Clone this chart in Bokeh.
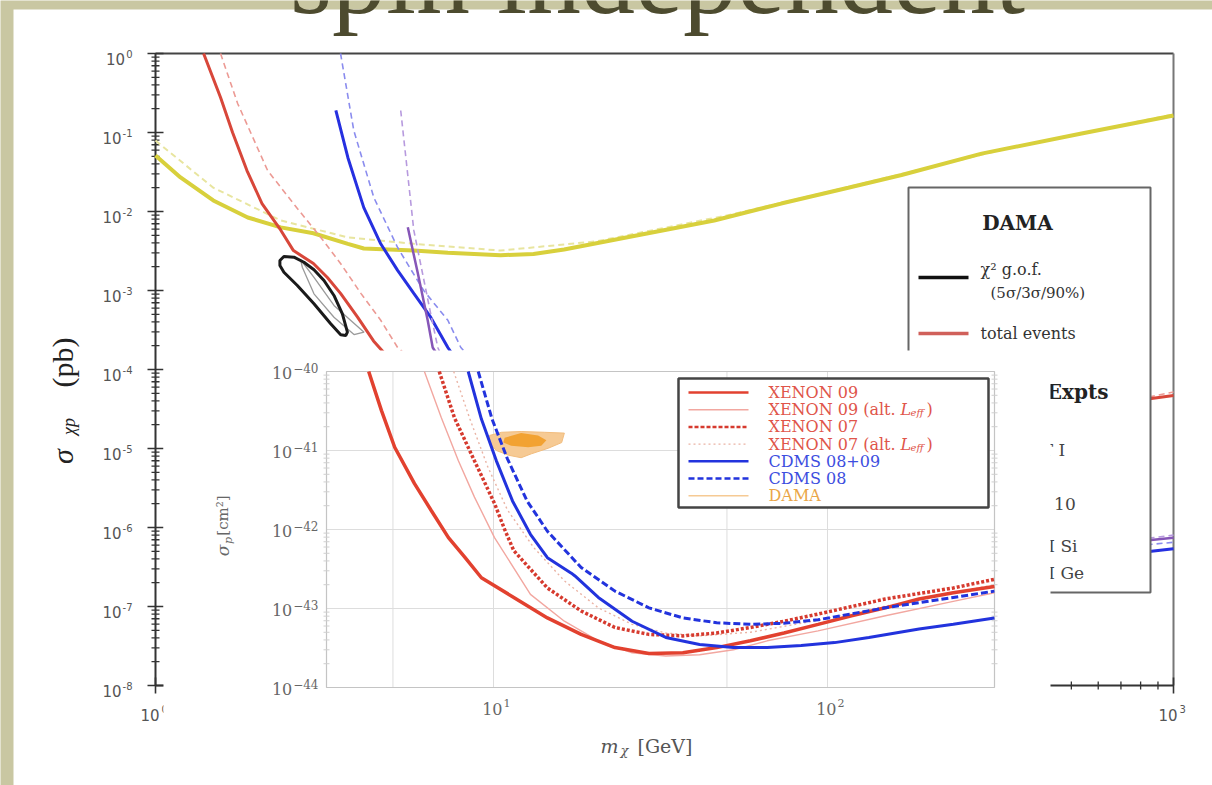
import numpy as np
from bokeh.plotting import figure
from bokeh.models import Range1d, LogScale
from bokeh.core.properties import value
from bokeh.embed import file_html
from bokeh.resources import INLINE

W, H = 1212, 785

# ---------------- main plot: sigma_chi_p [pb] vs m_chi [GeV] ----------------
main_x_ticks = [1, 10, 100, 1000]
main_x_tick_exp = ["0", "1", "2", "3"]
main_y_ticks = [1e0, 1e-1, 1e-2, 1e-3, 1e-4, 1e-5, 1e-6, 1e-7, 1e-8]
main_y_tick_exp = ["0", "-1", "-2", "-3", "-4", "-5", "-6", "-7", "-8"]

yellow_m = [1.0, 1.185, 1.48, 1.87, 2.34, 2.92, 3.69, 4.11, 5.77, 7.27, 10.4, 13.0, 16.0, 28.3, 44.3, 69.8, 110, 158, 272, 536, 1000]
yellow_s = [0.051, 0.027, 0.0138, 0.0084, 0.0063, 0.0053, 0.0039, 0.0034, 0.0032, 0.0030, 0.0028, 0.0029, 0.0033, 0.0053, 0.0077, 0.0126, 0.020, 0.029, 0.054, 0.097, 0.164]
yellow_dash_m = [1.0, 1.48, 2.34, 3.69, 5.77, 10.4, 20, 50, 100, 300, 1000]
yellow_dash_s = [0.079, 0.020, 0.0077, 0.0047, 0.0039, 0.0032, 0.0042, 0.0092, 0.0185, 0.058, 0.17]

red_m = [1.386, 1.555, 1.687, 1.86, 2.06, 2.34, 2.55, 2.92, 3.21, 3.51, 3.94, 4.39, 4.7, 6, 10, 30, 100, 300, 861, 1000]
red_s = [1.0, 0.277, 0.1, 0.033, 0.0126, 0.0058, 0.0032, 0.0022, 0.00146, 0.00092, 0.00046, 0.00023, 0.000165, 7e-5, 2e-5, 5e-6, 6e-6, 1.5e-5, 4.3e-5, 4.7e-5]
red_dash_m = [1.555, 1.746, 2.14, 2.55, 3.07, 3.51, 4.03, 4.61, 5.17, 7, 12, 30, 100, 300, 1000]
red_dash_s = [1.0, 0.233, 0.033, 0.0126, 0.0047, 0.0022, 0.00092, 0.00042, 0.00019, 6e-5, 2e-5, 8e-6, 8e-6, 1.8e-5, 5.2e-5]

blue_m = [3.40, 3.69, 4.11, 4.61, 5.17, 5.77, 6.47, 7.27, 9, 15, 30, 60, 150, 400, 861, 1000]
blue_s = [0.19, 0.048, 0.0112, 0.0039, 0.0018, 0.00092, 0.00046, 0.00019, 5e-5, 5e-6, 8e-7, 3e-7, 2.5e-7, 3.2e-7, 5e-7, 5.4e-7]
blue_dash_m = [3.51, 3.84, 4.40, 5.17, 6.17, 7.27, 7.94, 10, 20, 50, 150, 400, 1000]
blue_dash_s = [1.0, 0.106, 0.015, 0.0035, 0.001, 0.00042, 0.00019, 6e-5, 6e-6, 1e-6, 4e-7, 4.5e-7, 6.5e-7]

purple_m = [5.54, 5.93, 6.34, 6.56, 8, 15, 40, 150, 400, 1000]
purple_s = [0.0063, 0.00165, 0.00042, 0.00019, 5e-5, 5e-6, 7e-7, 4e-7, 5e-7, 7.4e-7]
purple_dash_m = [5.28, 5.77, 6.47, 6.79, 8, 15, 40, 150, 400, 1000]
purple_dash_s = [0.19, 0.0058, 0.00051, 0.00019, 4e-5, 4e-6, 6e-7, 4e-7, 5e-7, 8e-7]

dama_gof_m = [2.326, 2.390, 2.558, 2.738, 2.931, 3.137, 3.357, 3.554, 3.678, 3.636, 3.514, 3.283, 2.931, 2.618, 2.390, 2.326]
dama_gof_s = [0.0024, 0.00269, 0.00264, 0.00228, 0.00183, 0.00134, 0.000865, 0.000507, 0.000297, 0.000269, 0.000275, 0.000379, 0.000679, 0.001157, 0.001705, 0.00207]
dama_gof90_m = [2.678, 2.931, 3.357, 4.117, 3.846, 3.357, 2.931, 2.708]
dama_gof90_s = [0.00245, 0.00147, 0.000646, 0.000297, 0.000277, 0.000459, 0.000908, 0.00197]

main_legend_rows = ["total events"]
other_expts = ["CRESST I", "XENON 10", "CDMS II Si", "CDMS II Ge"]

# ---------------- inset: sigma_p [cm^2] vs m_chi [GeV] ----------------
inset_x_ticks = [10, 100]
inset_x_tick_exp = ["1", "2"]
inset_y_ticks = [1e-40, 1e-41, 1e-42, 1e-43, 1e-44]
inset_y_tick_exp = ["\u221240", "\u221241", "\u221242", "\u221243", "\u221244"]
inset_x_grid = [5, 10, 50, 100]
inset_y_grid = [1e-41, 1e-42, 1e-43]

xe09_m = [4.23, 4.62, 5.06, 5.8, 6.51, 7.33, 8.19, 9.2, 11.5, 14.5, 18.3, 23.1, 29.2, 36.9, 46.6, 58.8, 74.1, 93.7, 118, 149, 188, 238, 316]
xe09_s = [1.0e-40, 3.2e-41, 1.1e-41, 3.8e-42, 1.74e-42, 7.9e-43, 4.5e-43, 2.45e-43, 1.38e-43, 7.6e-44, 4.7e-44, 3.2e-44, 2.7e-44, 2.75e-44, 3.2e-44, 3.9e-44, 4.9e-44, 6.3e-44, 8.1e-44, 1.02e-43, 1.32e-43, 1.58e-43, 1.9e-43]
xe09alt_m = [6.21, 6.98, 7.85, 8.77, 10.07, 12.9, 16.3, 20.6, 26.0, 32.8, 41.4, 52.3, 66, 93.7, 149, 238, 316]
xe09alt_s = [1.0e-40, 2.6e-41, 7.4e-42, 2.57e-42, 7.9e-43, 1.51e-43, 6.9e-44, 3.9e-44, 2.75e-44, 2.5e-44, 2.6e-44, 3.0e-44, 3.9e-44, 5.2e-44, 8.1e-44, 1.23e-43, 1.58e-43]
xe07_m = [6.88, 7.64, 8.77, 10.07, 10.8, 11.5, 14.5, 18.3, 23.1, 29.2, 36.9, 46.6, 58.8, 74.1, 93.7, 149, 238, 316]
xe07_s = [1.0e-40, 2.6e-41, 7.4e-42, 2.14e-42, 1.0e-42, 5.4e-43, 1.82e-43, 9.3e-44, 5.75e-44, 4.7e-44, 4.5e-44, 4.9e-44, 5.75e-44, 6.9e-44, 8.5e-44, 1.32e-43, 1.82e-43, 2.34e-43]
xe07alt_m = [7.6, 8.5, 9.6, 11.0, 13.2, 16.3, 20.6, 26, 32.8, 41.4, 58.8, 93.7, 149, 238, 316]
xe07alt_s = [1e-40, 2.5e-41, 6.3e-42, 1.78e-42, 5.9e-43, 2.24e-43, 1.02e-43, 6.3e-44, 4.9e-44, 4.5e-44, 5.0e-44, 7.1e-44, 1.07e-43, 1.58e-43, 2.0e-43]
cdms0809_m = [8.4, 9.2, 10.2, 11.4, 12.9, 14.5, 17.1, 17.5, 20.6, 26, 32.8, 41.4, 52.3, 66, 83.4, 105, 133, 188, 238, 316]
cdms0809_s = [1e-40, 2.5e-41, 7.4e-42, 2.3e-42, 8.7e-43, 4.4e-43, 2.8e-43, 2.6e-43, 1.38e-43, 6.9e-44, 4.3e-44, 3.5e-44, 3.2e-44, 3.2e-44, 3.4e-44, 3.7e-44, 4.3e-44, 5.5e-44, 6.3e-44, 7.6e-44]
cdms08_m = [9.0, 9.9, 11.0, 12.6, 14.5, 18.3, 23.1, 29.2, 36.9, 46.6, 58.8, 74, 93.7, 149, 238, 316]
cdms08_s = [1e-40, 2.5e-41, 7.9e-42, 2.3e-42, 9.5e-43, 3.3e-43, 1.66e-43, 1.02e-43, 7.6e-44, 6.6e-44, 6.3e-44, 6.5e-44, 7.2e-44, 1.02e-43, 1.38e-43, 1.66e-43]
dama_out_m = [9.73, 10.57, 12.1, 14.2, 16.3, 16.0, 14.6, 13.0, 12.1, 11.1, 10.2, 9.73]
dama_out_s = [1.55e-41, 1.7e-41, 1.74e-41, 1.7e-41, 1.66e-41, 1.26e-41, 1.07e-41, 9.1e-42, 8.1e-42, 8.7e-42, 1.0e-41, 1.23e-41]
dama_in_m = [10.8, 12.1, 13.6, 14.4, 13.9, 12.7, 11.3, 10.7]
dama_in_s = [1.45e-41, 1.66e-41, 1.55e-41, 1.35e-41, 1.15e-41, 1.1e-41, 1.15e-41, 1.26e-41]

inset_legend_labels = ["XENON 09", "XENON 09 (alt.", "XENON 07", "XENON 07 (alt.", "CDMS 08+09", "CDMS 08", "DAMA"]

# ---------------- layout (pixel boxes) ----------------
BEIGE = "#c9c7a2"
MAIN_BOX = (155, 1173, 53, 685)     # left, right, top, bottom (px from top-left)
INSET_BOX = (326, 994, 371, 687)
main_x_lim, main_y_lim = (1, 1000), (1e-8, 1)
inset_x_lim, inset_y_lim = (10 ** 0.5, 10 ** 2.5), (1e-44, 1e-40)


def ext_range(lo, hi, p_lo, p_hi, total):
    a, b = np.log10(lo), np.log10(hi)
    k = (b - a) / (p_hi - p_lo)
    s0 = a - p_lo * k
    s1 = a + (total - p_lo) * k
    return Range1d(10 ** min(s0, s1), 10 ** max(s0, s1))


p = figure(width=W, height=H, x_range=Range1d(0, W), y_range=Range1d(H, 0),
           x_axis_type=None, y_axis_type=None, toolbar_location=None,
           output_backend="svg", min_border=0, outline_line_color=None,
           background_fill_color=BEIGE, border_fill_color=BEIGE)
p.extra_x_ranges = {"mx": ext_range(*main_x_lim, MAIN_BOX[0], MAIN_BOX[1], W),
                    "ix": ext_range(*inset_x_lim, INSET_BOX[0], INSET_BOX[1], W)}
p.extra_y_ranges = {"my": ext_range(*main_y_lim, MAIN_BOX[3], MAIN_BOX[2], H),
                    "iy": ext_range(*inset_y_lim, INSET_BOX[3], INSET_BOX[2], H)}
p.extra_x_scales = {"mx": LogScale(), "ix": LogScale()}
p.extra_y_scales = {"my": LogScale(), "iy": LogScale()}
M = dict(x_range_name="mx", y_range_name="my")
I = dict(x_range_name="ix", y_range_name="iy")


def txt(x, y, s, size, color, font="DejaVu Serif", align="left", baseline="middle",
        style="normal", angle=0.0, xo=0, yo=0, **kw):
    p.text(x=[x], y=[y], text=[s], text_font=value(font), text_font_size=f"{size}px",
           text_color=color, text_align=align, text_baseline=baseline,
           text_font_style=style, angle=angle, x_offset=xo, y_offset=yo, **kw)


# slide
p.quad(left=[13], right=[W], top=[9], bottom=[H], fill_color="white", line_color=None)
txt(657, -24, "spin independent", 108, "#4d4b2f", font="Liberation Serif",
    align="center", baseline="alphabetic")

# ---------------- main plot ----------------
x0, x1 = main_x_lim
y0, y1 = main_y_lim
p.segment(x0=[x0], y0=[y0], x1=[x0], y1=[y1], line_color="#333", line_width=2, **M)
p.segment(x0=[x0], y0=[y1], x1=[x1], y1=[y1], line_color="#444", line_width=2, **M)
p.segment(x0=[x1], y0=[y1], x1=[x1], y1=[y0], line_color="#777", line_width=2, **M)
p.segment(x0=[x0], y0=[y0], x1=[x1], y1=[y0], line_color="#333", line_width=2, **M)
minor_y = [k * 10.0 ** e for e in range(-8, 0) for k in range(2, 10)]
minor_x = [k * 10.0 ** e for e in range(0, 3) for k in range(2, 10)]
p.scatter(x=[x0] * len(main_y_ticks), y=main_y_ticks, marker="dash", size=16,
          line_color="#333", line_width=1.6, **M)
p.scatter(x=[x0] * len(minor_y), y=minor_y, marker="dash", size=8,
          line_color="#333", line_width=1.3, **M)
p.scatter(x=main_x_ticks, y=[y0] * len(main_x_ticks), marker="dash", size=16, angle=np.pi / 2,
          line_color="#333", line_width=1.6, **M)
p.scatter(x=minor_x, y=[y0] * len(minor_x), marker="dash", size=8, angle=np.pi / 2,
          line_color="#333", line_width=1.3, **M)

SANS_DIGIT = 0.636
def sans_w(s, size):
    return sum((0.361 if c == "-" else SANS_DIGIT) * size for c in s)

for t, e in zip(main_y_ticks, main_y_tick_exp):
    txt(x0, t, e, 10, "#555", font="DejaVu Sans", align="right", xo=-23, yo=0, **M)
    txt(x0, t, "10", 15, "#555", font="DejaVu Sans", align="right",
        xo=-24 - sans_w(e, 10), yo=5, **M)
for t, e in zip(main_x_ticks, main_x_tick_exp):
    txt(t, y0, "10", 15, "#555", font="DejaVu Sans", align="right", xo=4, yo=29, **M)
    txt(t, y0, e, 10, "#555", font="DejaVu Sans", align="left", xo=6, yo=23, **M)

txt(62, 456, "\u03c3", 30, "#222", font="Liberation Serif", style="italic",
    align="center", angle=np.pi / 2)
txt(68, 426, "\u03c7p", 18, "#222", font="Liberation Serif", style="italic",
    align="center", angle=np.pi / 2)
txt(62, 362, "(pb)", 30, "#222", font="Liberation Serif", align="center", angle=np.pi / 2)

p.line(yellow_dash_m, yellow_dash_s, line_color="#e8e59f", line_width=2, line_dash="6 4", **M)
p.line(yellow_m, yellow_s, line_color="#d8d03c", line_width=4, **M)
p.line(red_dash_m, red_dash_s, line_color="#ec9a94", line_width=1.6, line_dash="6 4", **M)
p.line(red_m, red_s, line_color="#d8473a", line_width=3, **M)
p.line(blue_dash_m, blue_dash_s, line_color="#8a8cee", line_width=1.6, line_dash="6 4", **M)
p.line(blue_m, blue_s, line_color="#2630e0", line_width=3, **M)
p.line(purple_dash_m, purple_dash_s, line_color="#b79ade", line_width=1.6, line_dash="6 4", **M)
p.line(purple_m, purple_s, line_color="#8656b8", line_width=2.5, **M)
p.patch(dama_gof90_m, dama_gof90_s, fill_color=None, line_color="#9a9a9a", line_width=1.3, **M)
p.patch(dama_gof_m, dama_gof_s, fill_color=None, line_color="#1a1a1a", line_width=3, **M)

# main legend box
p.quad(left=[908], right=[1150], top=[187], bottom=[592], fill_color="white",
       line_color="#666", line_width=2)
txt(1017, 222, "DAMA", 20, "#222", style="bold", align="center")
p.segment(x0=[918], y0=[277], x1=[968], y1=[277], line_color="#111", line_width=3.5)
txt(980, 269, "\u03c7\u00b2 g.o.f.", 16, "#333")
txt(990, 292, "(5\u03c3/3\u03c3/90%)", 15, "#333")
p.segment(x0=[918], y0=[333], x1=[968], y1=[333], line_color="#d0605a", line_width=3.5)
txt(980, 333, main_legend_rows[0], 16, "#333")
txt(1108, 391, "Other Expts", 20, "#222", style="bold", align="right")
for yy, name in zip([449, 503, 545, 572], other_expts):
    txt(980, yy, name, 17, "#444")

# ---------------- inset ----------------
p.quad(left=[163], right=[1050], top=[350], bottom=[H], fill_color="white", line_color=None)
ix0, ix1 = inset_x_lim
iy0, iy1 = inset_y_lim
p.segment(x0=inset_x_grid, y0=[iy0] * len(inset_x_grid), x1=inset_x_grid, y1=[iy1] * len(inset_x_grid),
          line_color="#dddddd", line_width=1, **I)
p.segment(x0=[ix0] * len(inset_y_grid), y0=inset_y_grid, x1=[ix1] * len(inset_y_grid), y1=inset_y_grid,
          line_color="#dddddd", line_width=1, **I)
p.quad(left=[ix0], right=[ix1], bottom=[iy0], top=[iy1], fill_color=None,
       line_color="#c4c4c4", line_width=1.2, **I)
iminor_y = [k * 10.0 ** e for e in range(-44, -40) for k in range(2, 10)]
p.scatter(x=[ix0] * len(iminor_y), y=iminor_y, marker="dash", size=6, line_color="#cfcfcf", **I)
p.scatter(x=[ix1] * len(iminor_y), y=iminor_y, marker="dash", size=6, line_color="#cfcfcf", **I)

for t, e in zip(inset_y_ticks, inset_y_tick_exp):
    txt(ix0, t, e, 12, "#666", align="right", xo=-8, yo=-4, **I)
    txt(ix0, t, "10", 16, "#666", align="right", xo=-9 - 0.7 * 12 * len(e), yo=1, **I)
for t, e in zip(inset_x_ticks, inset_x_tick_exp):
    txt(t, iy0, "10", 16, "#666", align="right", xo=9, yo=21, **I)
    txt(t, iy0, e, 11, "#666", align="left", xo=10, yo=15, **I)

txt(222, 550, "\u03c3", 17, "#666", style="italic", align="center", angle=np.pi / 2)
txt(228, 540, "p", 11, "#666", style="italic", align="center", angle=np.pi / 2)
txt(222, 515, "[cm\u00b2]", 15, "#666", align="center", angle=np.pi / 2)
txt(609, 745, "m", 19, "#555", style="italic", align="center")
txt(624, 750, "\u03c7", 13, "#555", style="italic", align="center")
txt(637, 745, "[GeV]", 19, "#555", align="left")

p.patch(dama_out_m, dama_out_s, fill_color="#f6ca94", line_color="#f2bd7e", line_width=1, **I)
p.patch(dama_in_m, dama_in_s, fill_color="#f2a232", line_color=None, **I)

p.line(xe09alt_m, xe09alt_s, line_color="#f2a7a0", line_width=1.4, **I)
p.line(xe07alt_m, xe07alt_s, line_color="#eab3a4", line_width=1.4, line_dash="2 3", **I)
p.line(xe07_m, xe07_s, line_color="#d63a2e", line_width=3.5, line_dash="3 2", **I)
p.line(xe09_m, xe09_s, line_color="#e2412f", line_width=3.5, **I)
p.line(cdms0809_m, cdms0809_s, line_color="#2233dd", line_width=3, **I)
p.line(cdms08_m, cdms08_s, line_color="#2233dd", line_width=3, line_dash="7 3", **I)

# inset legend
p.quad(left=[678], right=[988], top=[378], bottom=[507], fill_color="white",
       line_color="#444", line_width=2.5)
leg_styles = [
    dict(line_color="#e2412f", line_width=2.5),
    dict(line_color="#f2a7a0", line_width=1.4),
    dict(line_color="#d63a2e", line_width=2.5, line_dash="4 2"),
    dict(line_color="#eab3a4", line_width=1.4, line_dash="2 3"),
    dict(line_color="#2233dd", line_width=2.5),
    dict(line_color="#2233dd", line_width=2.5, line_dash="6 3"),
    dict(line_color="#f6ca94", line_width=1.4),
]
leg_text_colors = ["#e0554a", "#e0554a", "#e0554a", "#e0554a", "#3d4ee0", "#3d4ee0", "#eaa648"]
for i, (lab, st, tc) in enumerate(zip(inset_legend_labels, leg_styles, leg_text_colors)):
    yy = 392 + 17.2 * i
    p.segment(x0=[688], y0=[yy], x1=[748], y1=[yy], **st)
    txt(768, yy, lab, 16, tc)
    if lab.endswith("(alt."):
        txt(900, yy, "L", 16, tc, style="italic")
        txt(910, yy + 3, "eff", 10, tc, style="italic")
        txt(926, yy, ")", 16, tc)

open("out.html", "w").write(file_html(p, INLINE))
